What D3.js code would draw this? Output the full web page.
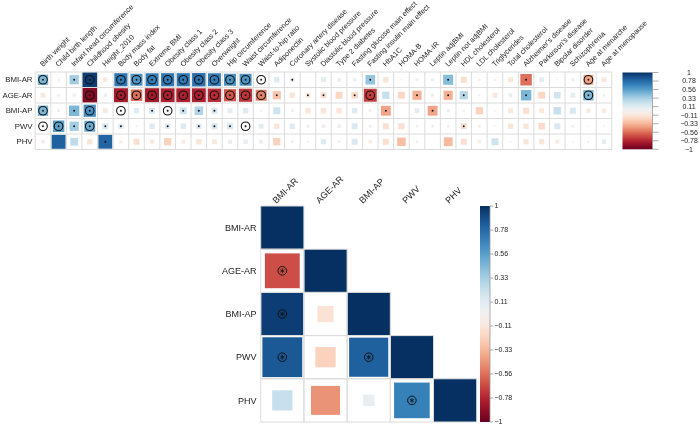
<!DOCTYPE html>
<html>
<head>
<meta charset="utf-8">
<script src="https://cdn.jsdelivr.net/npm/d3@7"></script>
<style>
body{margin:0;background:#fff}
#chart{will-change:transform}
svg text{font-family:"Liberation Sans",Arial,sans-serif;fill:#222}
</style>
</head>
<body>
<svg id="chart" width="700" height="426"></svg>
<script>
// data ------------------------------------------------

// top panel: traits (columns) vs growth measures (rows)
var traits=["Birth weight","Child birth length","Infant head circumference","Childhood obesity","Height_2010",
  "Body mass index","Body fat","Extreme BMI","Obesity class 1","Obesity class 2","Obesity class 3","Overweight",
  "Hip circumference","Waist circumference","Waist-to-hip ratio","Adiponectin","Coronary artery disease",
  "Systolic blood pressure","Diastolic blood pressure","Type 2 diabetes","Fasting glucose main effect",
  "Fasting insulin main effect","HbA1C","HOMA-B","HOMA-IR","Leptin adjBMI","Leptin not adjBMI",
  "HDL cholesterol","LDL cholesterol","Triglycerides","Total cholesterol","Alzheimer's disease",
  "Parkinson's disease","Bipolar disorder","Schizophrenia","Age at menarche","Age at menopause"];
var measures=["BMI-AR","AGE-AR","BMI-AP","PWV","PHV"];

var rBmiAr=[0.45,0.02,0.35,0.95,-0.08,0.72,0.6,0.7,0.72,0.72,0.75,0.7,0.6,0.6,0.04,0.12,0.08,0,0.1,0.06,0.05,0.38,-0.12,0.01,0.04,-0.04,0.42,-0.15,0.02,0.02,-0.1,-0.55,0.1,0.01,-0.04,-0.4,-0.1];
var rAgeAr=[-0.1,0.03,-0.05,-0.92,0.05,-0.82,-0.55,-0.82,-0.8,-0.8,-0.8,-0.75,-0.62,-0.72,-0.5,-0.28,-0.12,-0.1,-0.15,-0.2,-0.18,-0.7,0.22,-0.2,-0.35,0.04,-0.35,0.28,0.02,-0.1,0.06,0.45,-0.2,0.18,0.1,0.45,0.03];
var rBmiAp=[0.45,0.04,0.45,0.62,-0.1,0.05,0.12,0.15,0.06,0.2,0.3,0.15,0.1,0.12,0.02,0.2,0.03,-0.12,-0.12,-0.12,0.12,0.04,-0.4,0,0.1,-0.4,0.04,0.02,-0.22,0.01,-0.1,-0.15,-0.1,0.22,0.15,-0.08,-0.08];
var rPwv=[0.03,0.55,0.35,0.5,0.15,0.12,0.02,0.12,0.12,0.12,0.12,0.15,0.15,0.03,0.1,-0.12,0.12,-0.04,-0.05,0.06,0.15,0.04,-0.15,-0.15,0.03,0.03,-0.03,-0.15,-0.04,0.01,-0.12,-0.12,-0.18,0.15,0.03,0.01,0.01];
var rPhv=[-0.05,0.82,0.25,-0.12,0.8,-0.04,-0.15,-0.08,-0.22,-0.06,-0.12,-0.1,0.07,0.08,0.06,-0.22,0.03,0.02,0.12,0.03,0.15,-0.05,-0.15,-0.3,0.03,0,-0.32,-0.15,-0.05,0.2,-0.01,-0.12,-0.12,-0.06,0.01,0.02,0.08];

// significance: 2 = ringed mark, 1 = small mark, 0 = none
var sBmiAr=[2,0,1,2,0,2,2,2,2,2,2,2,2,2,2,0,1,0,0,0,0,1,0,0,0,0,1,0,0,0,0,1,0,0,0,2,0];
var sAgeAr=[0,0,0,2,0,2,2,2,2,2,2,2,2,2,2,1,0,1,1,0,1,2,0,0,1,0,1,1,0,0,0,1,0,0,0,2,0];
var sBmiAp=[2,0,1,2,0,2,0,1,2,1,1,1,0,0,0,0,0,0,0,0,0,0,1,0,0,1,0,0,0,0,0,0,0,0,0,0,0];
var sPwv=[2,2,1,2,1,1,0,0,1,0,1,1,1,2,0,0,0,0,0,0,0,0,0,0,0,0,0,1,0,0,0,0,0,0,0,0,0];
var sPhv=[0,0,0,0,1,0,0,0,0,0,0,0,0,0,0,0,0,0,0,0,0,0,0,0,0,0,0,0,0,0,0,0,0,0,0,0,0];

var topValues=[rBmiAr,rAgeAr,rBmiAp,rPwv,rPhv];
var topSig=[sBmiAr,sAgeAr,sBmiAp,sPwv,sPhv];

// bottom panel: lower triangle among growth measures
var rowBmiAr=[1];
var rowAgeAr=[-0.65,1];
var rowBmiAp=[0.95,-0.14,1];
var rowPwv=[0.85,-0.22,0.82,1];
var rowPhv=[0.22,-0.45,0.07,0.68,1];
var botValues=[rowBmiAr,rowAgeAr,rowBmiAp,rowPwv,rowPhv];
var botSig=[[0],[1,0],[1,0,0],[1,0,1,0],[0,0,0,1,0]];

var legendTicks=["1","0.78","0.56","0.33","0.11","\u22120.11","\u22120.33","\u22120.56","\u22120.78","\u22121"];

// helpers ---------------------------------------------
var svg=d3.select('#chart');
var color=d3.scaleSequential(d3.interpolateRdBu).domain([-1,1]);
var gridCol='#dcdcdc';

var defs=svg.append('defs');
var grad=defs.append('linearGradient').attr('id','rdbu')
  .attr('x1',0).attr('x2',0).attr('y1',1).attr('y2',0);
d3.range(0,1.0001,0.02).forEach(function(t){
  grad.append('stop').attr('offset',t).attr('stop-color',d3.interpolateRdBu(t));
});

function colorBar(x0,w,y0,y1,tickLen,labelX,anchor){
  var yl=d3.scaleLinear().domain([1,-1]).range([y0,y1]);
  var g=svg.append('g');
  g.append('rect').attr('x',x0).attr('y',y0).attr('width',w).attr('height',y1-y0).attr('fill','url(#rdbu)');
  g.append('line').attr('x1',x0+w).attr('x2',x0+w).attr('y1',y0).attr('y2',y1).attr('stroke','#999').attr('stroke-width',0.8);
  legendTicks.forEach(function(lab,i){
    var v=1-2*i/9;
    g.append('line').attr('x1',x0+w).attr('x2',x0+w+tickLen).attr('y1',yl(v)).attr('y2',yl(v))
      .attr('stroke','#999').attr('stroke-width',0.8);
    g.append('text').attr('x',labelX).attr('y',yl(v)).attr('dy','0.35em')
      .attr('text-anchor',anchor).style('font-size','7px').text(lab);
  });
}

// top panel -------------------------------------------
var xT=d3.scaleBand().domain(traits).range([35.2,611.8]);
var yT=d3.scaleBand().domain(measures).range([72,149.5]);
var topG=svg.append('g');

measures.forEach(function(m,ri){
  traits.forEach(function(t,ci){
    var v=topValues[ri][ci];
    var cx=xT(t)+xT.bandwidth()/2, cy=yT(m)+yT.bandwidth()/2;
    var side=Math.sqrt(Math.abs(v))*Math.min(xT.bandwidth(),yT.bandwidth());
    topG.append('rect').attr('x',cx-side/2).attr('y',cy-side/2).attr('width',side).attr('height',side)
      .attr('fill',color(v));
  });
});
// grid
traits.concat([null]).forEach(function(t,i){
  var x=i<traits.length?xT(t):xT.range()[1];
  topG.append('line').attr('x1',x).attr('x2',x).attr('y1',72).attr('y2',149.5).attr('stroke',gridCol).attr('stroke-width',1);
});
d3.range(measures.length+1).forEach(function(i){
  var y=72+i*yT.bandwidth();
  topG.append('line').attr('x1',35.2).attr('x2',611.8).attr('y1',y).attr('y2',y).attr('stroke',gridCol).attr('stroke-width',1);
});
// significance marks
measures.forEach(function(m,ri){
  traits.forEach(function(t,ci){
    var s=topSig[ri][ci];
    var cx=xT(t)+xT.bandwidth()/2, cy=yT(m)+yT.bandwidth()/2;
    if(s==2){
      topG.append('circle').attr('cx',cx).attr('cy',cy).attr('r',4.3).attr('fill','none').attr('stroke','#111').attr('stroke-width',1.1);
      topG.append('circle').attr('cx',cx).attr('cy',cy).attr('r',0.9).attr('fill','#111');
    }else if(s==1){
      topG.append('circle').attr('cx',cx).attr('cy',cy).attr('r',0.95).attr('fill','#111');
    }
  });
});
// labels
measures.forEach(function(m){
  topG.append('text').attr('x',32.5).attr('y',yT(m)+yT.bandwidth()/2).attr('dy','0.35em')
    .attr('text-anchor','end').style('font-size','7.8px').text(m);
});
traits.forEach(function(t){
  var cx=xT(t)+xT.bandwidth()/2;
  topG.append('text').attr('transform','translate('+(cx)+',67) rotate(-45)')
    .attr('text-anchor','start').style('font-size','7.3px').text(t);
});
colorBar(622.5,30,72.5,149.3,6,689,'middle');

// bottom panel ----------------------------------------
var xB=d3.scaleBand().domain(measures).range([260.7,476.7]);
var yB=d3.scaleBand().domain(measures).range([206,422]);
var botG=svg.append('g');
var bw=xB.bandwidth();

botValues.forEach(function(row,ri){
  row.forEach(function(v,ci){
    var cx=xB(measures[ci])+bw/2, cy=yB(measures[ri])+bw/2;
    var side=Math.sqrt(Math.abs(v))*bw;
    botG.append('rect').attr('x',cx-side/2).attr('y',cy-side/2).attr('width',side).attr('height',side)
      .attr('fill',color(v));
  });
});
botValues.forEach(function(row,ri){
  row.forEach(function(v,ci){
    botG.append('rect').attr('x',xB(measures[ci])).attr('y',yB(measures[ri])).attr('width',bw).attr('height',bw)
      .attr('fill','none').attr('stroke',gridCol).attr('stroke-width',1);
  });
});
botValues.forEach(function(row,ri){
  row.forEach(function(v,ci){
    if(!botSig[ri][ci]) return;
    var cx=xB(measures[ci])+bw/2, cy=yB(measures[ri])+bw/2;
    botG.append('circle').attr('cx',cx).attr('cy',cy).attr('r',4.3).attr('fill','none').attr('stroke','#111').attr('stroke-width',1);
    [90,30,150].forEach(function(a){
      var dx=Math.cos(a*Math.PI/180)*2.3, dy=Math.sin(a*Math.PI/180)*2.3;
      botG.append('line').attr('x1',cx-dx).attr('x2',cx+dx).attr('y1',cy-dy).attr('y2',cy+dy)
        .attr('stroke','#111').attr('stroke-width',0.8);
    });
  });
});
measures.forEach(function(m){
  botG.append('text').attr('x',256.5).attr('y',yB(m)+bw/2).attr('dy','0.35em')
    .attr('text-anchor','end').style('font-size','9px').text(m);
  botG.append('text').attr('transform','translate('+(xB(m)+bw/2-6)+',204) rotate(-45)')
    .attr('text-anchor','start').style('font-size','9px').text(m);
});
colorBar(480,10,206,422,3,494.5,'start');
</script>
</body>
</html>
